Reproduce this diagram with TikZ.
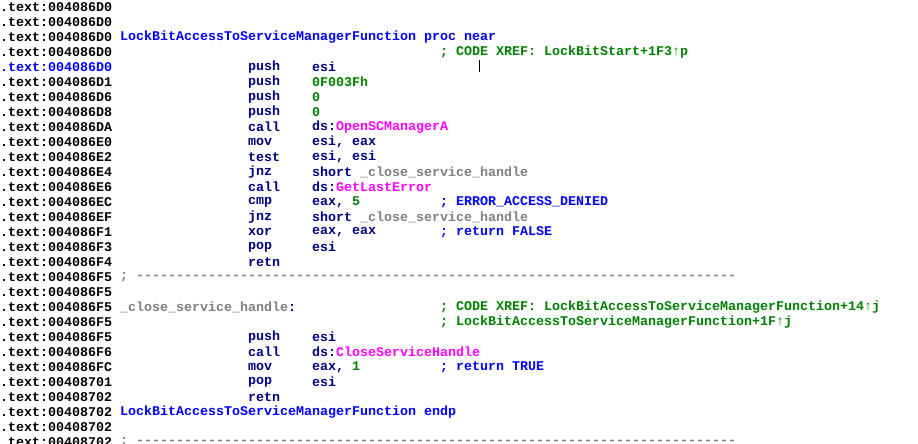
\documentclass[tikz,border=0pt]{standalone}
\usepackage{fontspec}
\setmonofont{Liberation Mono}
\definecolor{idanavy}{HTML}{000080}
\definecolor{idablue}{HTML}{0000FF}
\definecolor{idagreen}{HTML}{008000}
\definecolor{idapink}{HTML}{FF00FF}
\definecolor{idagray}{HTML}{808080}
\tikzset{
	asm/.style={anchor=west, inner sep=0pt, font=\ttfamily\bfseries\fontsize{13.33}{15}\selectfont},
}
% one field of the listing: line, column, colour, text
\newcommand{\fld}[4]{\node[asm, text=#3] (f#1c#2) at ({#2*8}, {-7-15*#1}) {#4};}
\newcommand{\dashrow}{; ---------------------------------------------------------------------------}
\begin{document}
\begin{tikzpicture}[x=1pt,y=1pt]
	\fill[white] (0,0) rectangle (918,-444);
	\useasboundingbox (0,0) rectangle (918,-444);
	%adresszek
	\foreach \i/\a in {0/6D0,1/6D0,2/6D0,3/6D0,5/6D1,6/6D6,7/6D8,8/6DA,9/6E0,10/6E2,11/6E4,12/6E6,13/6EC,14/6EF,15/6F1,16/6F3,17/6F4,18/6F5,19/6F5,20/6F5,21/6F5,22/6F5,23/6F6,24/6FC,25/701,26/702,27/702,28/702,29/702}
		\node[asm] (a\i) at (0, {-7-15*\i}) {.text:00408\a};
	\node[asm, text=idablue] (a4) at (0,-67) {.text:004086D0};
	%fejléc
	\fld{2}{15}{idablue}{LockBitAccessToServiceManagerFunction proc near}
	\fld{3}{55}{idagreen}{; CODE XREF: LockBitStart+1F3↑p}
	\draw[black] (479,-60) -- (479,-72);
	%utasítások
	\fld{4}{31}{idanavy}{push}   \fld{4}{39}{idanavy}{esi}
	\fld{5}{31}{idanavy}{push}   \fld{5}{39}{idagreen}{0F003Fh}
	\fld{6}{31}{idanavy}{push}   \fld{6}{39}{idagreen}{0}
	\fld{7}{31}{idanavy}{push}   \fld{7}{39}{idagreen}{0}
	\fld{8}{31}{idanavy}{call}   \fld{8}{39}{idanavy}{ds:\textcolor{idapink}{OpenSCManagerA}}
	\fld{9}{31}{idanavy}{mov}    \fld{9}{39}{idanavy}{esi, eax}
	\fld{10}{31}{idanavy}{test}  \fld{10}{39}{idanavy}{esi, esi}
	\fld{11}{31}{idanavy}{jnz}   \fld{11}{39}{idanavy}{short \textcolor{idagray}{\_close\_service\_handle}}
	\fld{12}{31}{idanavy}{call}  \fld{12}{39}{idanavy}{ds:\textcolor{idapink}{GetLastError}}
	\fld{13}{31}{idanavy}{cmp}   \fld{13}{39}{idanavy}{eax, \textcolor{idagreen}{5}}
	\fld{13}{55}{idablue}{; ERROR\_ACCESS\_DENIED}
	\fld{14}{31}{idanavy}{jnz}   \fld{14}{39}{idanavy}{short \textcolor{idagray}{\_close\_service\_handle}}
	\fld{15}{31}{idanavy}{xor}   \fld{15}{39}{idanavy}{eax, eax}
	\fld{15}{55}{idablue}{; return FALSE}
	\fld{16}{31}{idanavy}{pop}   \fld{16}{39}{idanavy}{esi}
	\fld{17}{31}{idanavy}{retn}
	\fld{18}{15}{idagray}{\dashrow}
	%címke
	\fld{20}{15}{idagray}{\_close\_service\_handle\textcolor{idanavy}{:}}
	\fld{20}{55}{idagreen}{; CODE XREF: LockBitAccessToServiceManagerFunction+14↑j}
	\fld{21}{55}{idagreen}{; LockBitAccessToServiceManagerFunction+1F↑j}
	\fld{22}{31}{idanavy}{push}  \fld{22}{39}{idanavy}{esi}
	\fld{23}{31}{idanavy}{call}  \fld{23}{39}{idanavy}{ds:\textcolor{idapink}{CloseServiceHandle}}
	\fld{24}{31}{idanavy}{mov}   \fld{24}{39}{idanavy}{eax, \textcolor{idagreen}{1}}
	\fld{24}{55}{idablue}{; return TRUE}
	\fld{25}{31}{idanavy}{pop}   \fld{25}{39}{idanavy}{esi}
	\fld{26}{31}{idanavy}{retn}
	\fld{27}{15}{idablue}{LockBitAccessToServiceManagerFunction endp}
	\fld{29}{15}{idagray}{\dashrow}
\end{tikzpicture}
\end{document}
